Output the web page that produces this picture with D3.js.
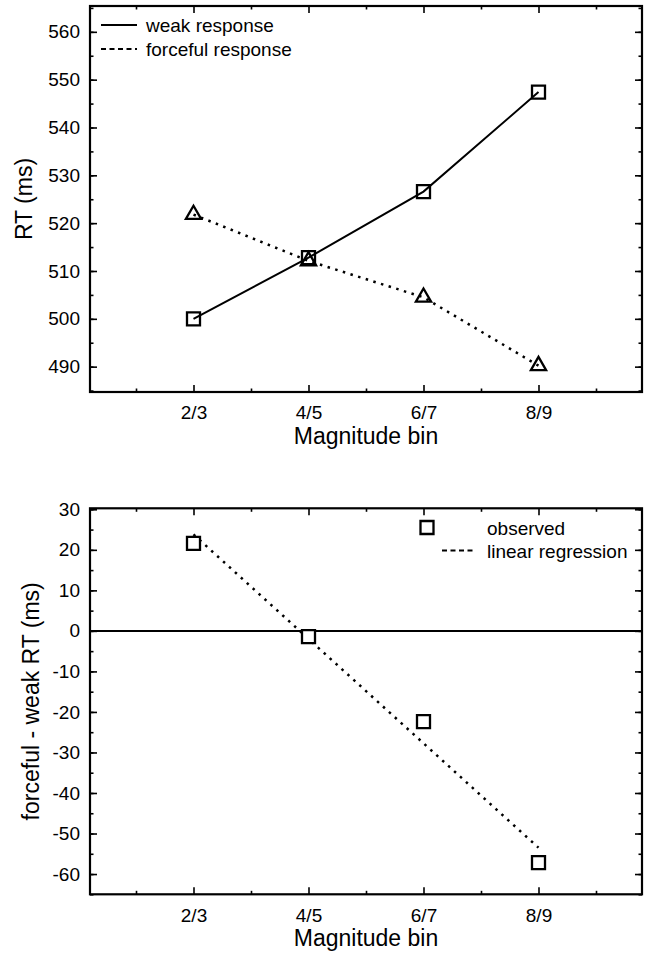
<!DOCTYPE html>
<html>
<head>
<meta charset="utf-8">
<script src="https://cdn.jsdelivr.net/npm/d3@7"></script>
<style>
  body { margin: 0; background: #fff; }
  text { font-family: "Liberation Sans", Arial, Helvetica, sans-serif; fill: #000; }
</style>
</head>
<body>
<div id="chart"></div>
<script>
// values
let bins = ["2/3", "4/5", "6/7", "8/9"];
let binPos = [1, 2, 3, 4];
let weakRT = [500.0, 512.8, 526.6, 547.4];
let forcefulRT = [521.8, 512.1, 504.5, 490.2];
let diffRT = [21.6, -1.4, -22.4, -57.2];
let regressionPos = [1, 4];
let regressionRT = [23.8, -53.5];
let topTicks = [490, 500, 510, 520, 530, 540, 550, 560];
let bottomTicks = [-60, -50, -40, -30, -20, -10, 0, 10, 20, 30];

let W = 646, H = 953;
let svg = d3.select("#chart").append("svg")
  .attr("width", W).attr("height", H);

let x = d3.scaleLinear().domain([0.1, 4.9]).range([90, 642]);
let minorX = [0.5, 1.5, 2.5, 3.5, 4.5];

let tickFont = "19px";
let square = d3.symbol().type(d3.symbolSquare).size(169);
let triangle = d3.symbol().type(d3.symbolTriangle).size(100);

function panel(y, ticks, top, bottom, yTitle, titleX) {
  let g = svg.append("g");
  let minorY = d3.range(Math.ceil(y.domain()[0] / 5) * 5, y.domain()[1], 5);

  // inward ticks on all four sides
  g.append("g").attr("transform", "translate(90,0)")
    .call(d3.axisLeft(y).tickValues(minorY).tickSize(-3.5).tickFormat(""));
  g.append("g").attr("transform", "translate(642,0)")
    .call(d3.axisRight(y).tickValues(minorY).tickSize(-3.5).tickFormat(""));
  g.append("g").attr("transform", "translate(90,0)")
    .call(d3.axisLeft(y).tickValues(ticks).tickSize(-7).tickPadding(10).tickFormat(d => String(d)));
  g.append("g").attr("transform", "translate(642,0)")
    .call(d3.axisRight(y).tickValues(ticks).tickSize(-7).tickFormat(""));

  g.append("g").attr("transform", "translate(0," + bottom + ")")
    .call(d3.axisBottom(x).tickValues(minorX).tickSize(-3.5).tickFormat(""));
  g.append("g").attr("transform", "translate(0," + top + ")")
    .call(d3.axisTop(x).tickValues(minorX).tickSize(-3.5).tickFormat(""));
  g.append("g").attr("transform", "translate(0," + bottom + ")")
    .call(d3.axisBottom(x).tickValues(binPos).tickSize(-7).tickPadding(14)
      .tickFormat((d, i) => bins[i]));
  g.append("g").attr("transform", "translate(0," + top + ")")
    .call(d3.axisTop(x).tickValues(binPos).tickSize(-7).tickFormat(""));

  g.selectAll(".domain").remove();
  g.selectAll(".tick line").attr("stroke", "#000").attr("stroke-width", 1.6);
  g.selectAll(".tick text").style("font-size", tickFont).attr("fill", "#000");

  g.append("rect")
    .attr("x", 90).attr("y", top)
    .attr("width", 642 - 90).attr("height", bottom - top)
    .attr("fill", "none").attr("stroke", "#000").attr("stroke-width", 2.2);

  g.append("text")
    .attr("x", (90 + 642) / 2).attr("y", bottom + 52)
    .attr("text-anchor", "middle").style("font-size", "23px")
    .text("Magnitude bin");

  g.append("text")
    .attr("transform", "translate(" + titleX + "," + (top + bottom) / 2 + ") rotate(-90)")
    .attr("text-anchor", "middle").style("font-size", "23px")
    .text(yTitle);
  return g;
}

// ---------- top panel ----------
let y1 = d3.scaleLinear().domain([484.7, 565.4]).range([392, 6]);
let g1 = panel(y1, topTicks, 6, 392, "RT (ms)", 32);

let line1 = d3.line().x((d, i) => x(binPos[i])).y(d => y1(d));

g1.append("path").datum(weakRT)
  .attr("d", line1).attr("fill", "none")
  .attr("stroke", "#000").attr("stroke-width", 2);
g1.append("path").datum(forcefulRT)
  .attr("d", line1).attr("fill", "none")
  .attr("stroke", "#000").attr("stroke-width", 2.5).attr("stroke-dasharray", "2.5,5.5");

g1.selectAll(".tri").data(forcefulRT).enter().append("path")
  .attr("d", triangle)
  .attr("transform", (d, i) => "translate(" + x(binPos[i]) + "," + y1(d) + ")")
  .attr("fill", "none").attr("stroke", "#000").attr("stroke-width", 2.3);
g1.selectAll(".sq").data(weakRT).enter().append("path")
  .attr("d", square)
  .attr("transform", (d, i) => "translate(" + x(binPos[i]) + "," + y1(d) + ")")
  .attr("fill", "none").attr("stroke", "#000").attr("stroke-width", 2.3);

// legend
g1.append("line").attr("x1", 101).attr("x2", 137).attr("y1", 25).attr("y2", 25)
  .attr("stroke", "#000").attr("stroke-width", 2);
g1.append("line").attr("x1", 101).attr("x2", 137).attr("y1", 49).attr("y2", 49)
  .attr("stroke", "#000").attr("stroke-width", 2).attr("stroke-dasharray", "5,3.5");
g1.append("text").attr("x", 146).attr("y", 31.5).style("font-size", "19px").text("weak response");
g1.append("text").attr("x", 146).attr("y", 55.5).style("font-size", "19px").text("forceful response");

// ---------- bottom panel ----------
let y2 = d3.scaleLinear().domain([-65, 30.25]).range([894.3, 508.3]);
let g2 = panel(y2, bottomTicks, 508.3, 894.3, "forceful - weak RT (ms)", 39);

g2.append("line")
  .attr("x1", 90).attr("x2", 642).attr("y1", y2(0)).attr("y2", y2(0))
  .attr("stroke", "#000").attr("stroke-width", 2);

let line2 = d3.line().x((d, i) => x(regressionPos[i])).y(d => y2(d));
g2.append("path").datum(regressionRT)
  .attr("d", line2).attr("fill", "none")
  .attr("stroke", "#000").attr("stroke-width", 2.5).attr("stroke-dasharray", "2.5,5.5");

g2.selectAll(".sq").data(diffRT).enter().append("path")
  .attr("d", square)
  .attr("transform", (d, i) => "translate(" + x(binPos[i]) + "," + y2(d) + ")")
  .attr("fill", "#fff").attr("stroke", "#000").attr("stroke-width", 2.3);

// legend
g2.append("path").attr("d", square)
  .attr("transform", "translate(427,527.5)")
  .attr("fill", "none").attr("stroke", "#000").attr("stroke-width", 2.3);
g2.append("line").attr("x1", 442).attr("x2", 476).attr("y1", 550.5).attr("y2", 550.5)
  .attr("stroke", "#000").attr("stroke-width", 2).attr("stroke-dasharray", "5,3.5");
g2.append("text").attr("x", 487).attr("y", 534.5).style("font-size", "19px").text("observed");
g2.append("text").attr("x", 487).attr("y", 557.5).style("font-size", "19px").text("linear regression");
</script>
</body>
</html>
